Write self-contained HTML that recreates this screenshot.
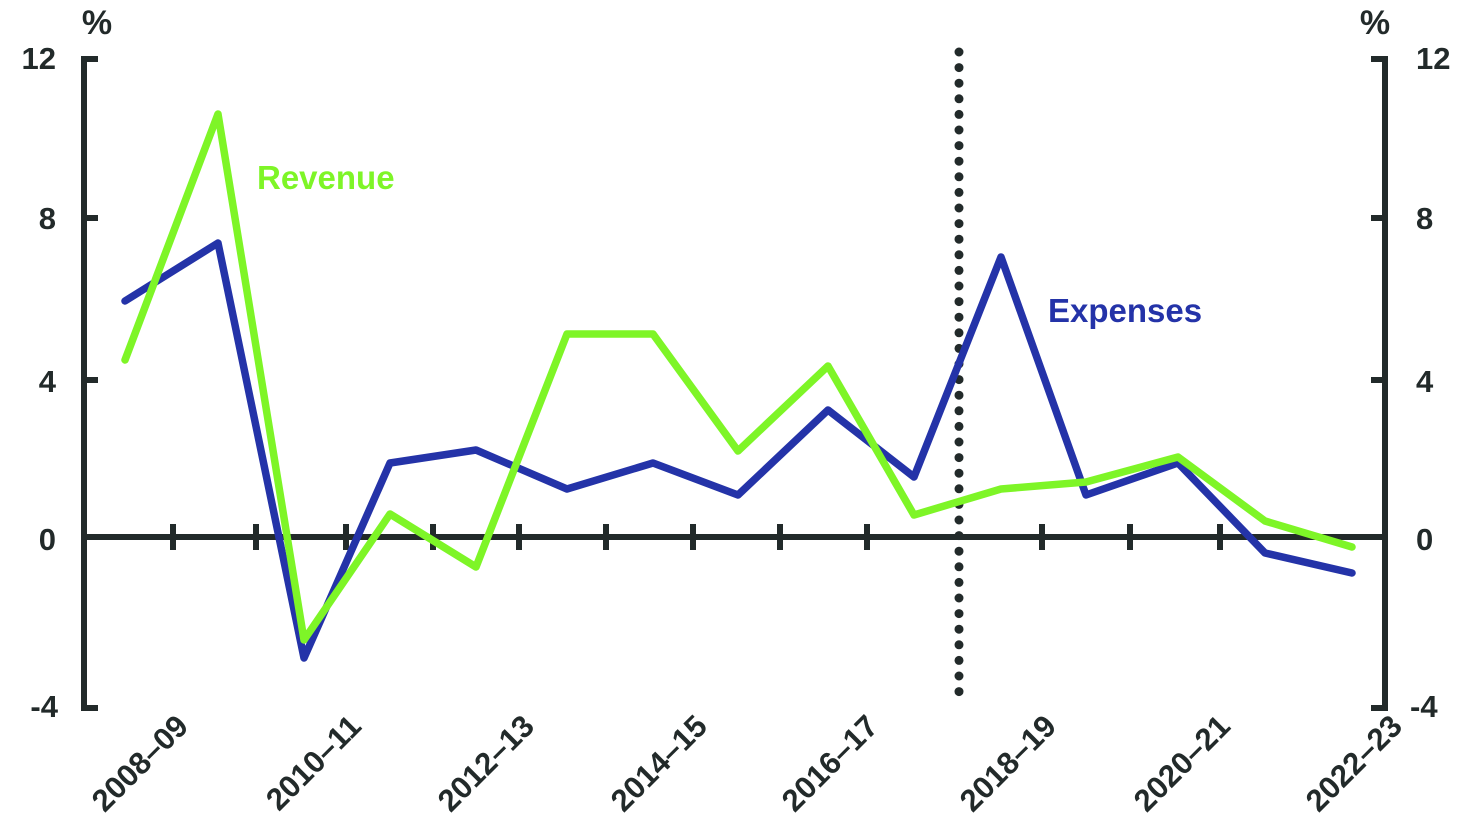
<!DOCTYPE html>
<html><head><meta charset="utf-8"><style>body{margin:0;background:#fff}svg{display:block}</style></head><body>
<svg width="1480" height="834" xmlns="http://www.w3.org/2000/svg" font-family="Liberation Sans, sans-serif" font-weight="bold">
<g stroke="#222a2a" stroke-width="6" fill="none">
<polyline points="98,59 84,59 84,708 98,708"/>
<line x1="84" y1="218" x2="98" y2="218"/>
<line x1="84" y1="380" x2="98" y2="380"/>
<polyline points="1371,59 1385,59 1385,708 1371,708"/>
<line x1="1371" y1="218" x2="1385" y2="218"/>
<line x1="1371" y1="380" x2="1385" y2="380"/>
<line x1="84" y1="537" x2="1385" y2="537"/>
<line x1="173" y1="524" x2="173" y2="550"/><line x1="256" y1="524" x2="256" y2="550"/><line x1="346" y1="524" x2="346" y2="550"/><line x1="433" y1="524" x2="433" y2="550"/><line x1="519" y1="524" x2="519" y2="550"/><line x1="606" y1="524" x2="606" y2="550"/><line x1="693" y1="524" x2="693" y2="550"/><line x1="780" y1="524" x2="780" y2="550"/><line x1="867" y1="524" x2="867" y2="550"/><line x1="1042" y1="524" x2="1042" y2="550"/><line x1="1130" y1="524" x2="1130" y2="550"/><line x1="1220" y1="524" x2="1220" y2="550"/>
<line x1="959" y1="52" x2="959" y2="706" stroke-width="9" stroke-linecap="round" stroke-dasharray="0 15.6"/>
</g>
<g fill="#222a2a" font-size="31">
<text x="97" y="34" text-anchor="middle" font-size="34">%</text>
<text x="1375" y="34" text-anchor="middle" font-size="34">%</text>
<text x="56" y="69" text-anchor="end">12</text>
<text x="56" y="229" text-anchor="end">8</text>
<text x="56" y="392" text-anchor="end">4</text>
<text x="56" y="550" text-anchor="end">0</text>
<text x="58" y="717" text-anchor="end">-4</text>
<text x="1416" y="69">12</text>
<text x="1416" y="229">8</text>
<text x="1416" y="392">4</text>
<text x="1416" y="550">0</text>
<text x="1410" y="717">-4</text>
<g font-size="31" text-anchor="end">
<text transform="translate(190,728) rotate(-45)">2008–09</text>
<text transform="translate(363,728) rotate(-45)">2010–11</text>
<text transform="translate(536,728) rotate(-45)">2012–13</text>
<text transform="translate(709,728) rotate(-45)">2014–15</text>
<text transform="translate(880,728) rotate(-45)">2016–17</text>
<text transform="translate(1058,728) rotate(-45)">2018–19</text>
<text transform="translate(1232,728) rotate(-45)">2020–21</text>
<text transform="translate(1404,728) rotate(-45)">2022–23</text>
</g>
</g>
<polyline fill="none" stroke="#2433a8" stroke-width="7.5" stroke-linejoin="round" stroke-linecap="round" points="125,301 218,243 304,658 390,463 476,450 567,489 653,463 738,495 828,410 914,477 1001,257 1086,495 1178,463 1265,553 1352,573"/>
<polyline fill="none" stroke="#7ef527" stroke-width="7.5" stroke-linejoin="round" stroke-linecap="round" points="125,360 218,114 304,640 390,514 476,567 567,334 653,334 738,451 828,366 914,515 1001,489 1086,482 1178,457 1265,521 1352,547"/>
<text x="257" y="189" fill="#7ef527" font-size="33">Revenue</text>
<text x="1048" y="322" fill="#2433a8" font-size="33">Expenses</text>
</svg>
</body></html>
